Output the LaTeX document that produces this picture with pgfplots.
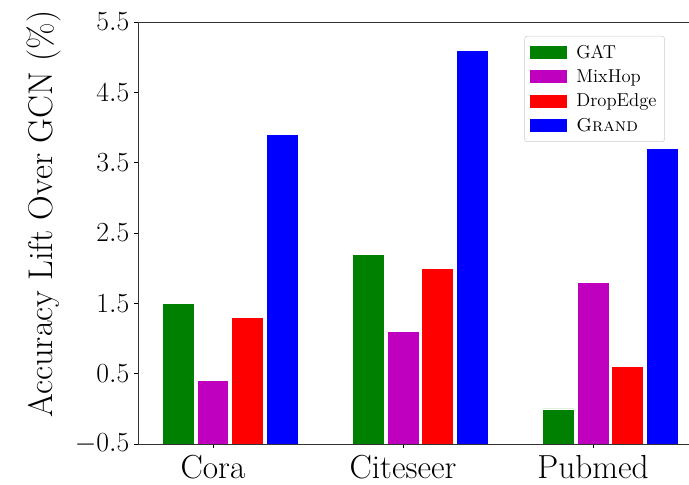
\documentclass[border=0pt]{standalone}
\usepackage{pgfplots}
\pgfplotsset{compat=1.18}
\usetikzlibrary{calc}
\definecolor{cG}{RGB}{0,128,0}
\definecolor{cM}{RGB}{191,0,191}
\definecolor{cR}{RGB}{255,0,0}
\definecolor{cB}{RGB}{0,0,255}
\begin{document}
\begin{tikzpicture}
\begin{axis}[
  scale only axis,
  width=415.5pt, height=316.5pt,
  xmin=-0.3947, xmax=2.521,
  ymin=0, ymax=6,
  y filter/.expression={y+0.5},
  ybar, bar width=0.166,
  xtick={0,1,2},
  xticklabels={Cora,Citeseer,Pubmed},
  ytick={0,1,2,3,4,5,6},
  yticklabels={$-0.5$,$0.5$,$1.5$,$2.5$,$3.5$,$4.5$,$5.5$},
  xtick pos=bottom, ytick pos=left,
  tick align=outside,
  major tick length=3pt,
  tick style={black, line width=0.6pt},
  axis line style={line width=0.6pt, black!80},
  xticklabel style={font=\fontsize{25}{30}\selectfont, yshift=-2pt},
  yticklabel style={font=\fontsize{21}{25}\selectfont},
  ylabel={Accuracy Lift Over GCN (\%)},
  every axis y label/.style={at={(axis description cs:-0.155,0.545)}, rotate=90, anchor=base, font=\fontsize{25.7}{30}\selectfont},
  legend style={at={(axis description cs:0.951,0.967)}, anchor=north east,
    draw=black!20, rounded corners=2pt, fill=white, fill opacity=0.8, text opacity=1,
    font=\fontsize{14}{16.8}\selectfont,
    nodes={font=\fontsize{14}{16.8}\selectfont},
    row sep=3pt, column sep=5pt, inner xsep=4pt, inner ysep=4.5pt,
    cells={anchor=west}},
  legend image code/.code={\fill[#1,draw=none,sharp corners,fill opacity=1] (0pt,-4.9pt) rectangle (27.75pt,4.9pt);},
]
\coordinate (sw) at (rel axis cs:0,0);
\addplot[fill=cG, draw=white, line width=0.4pt, bar shift=-0.1816] coordinates {(0,1.5) (1,2.2) (2,0.0)};
\addplot[fill=cM, draw=white, line width=0.4pt, bar shift=0] coordinates {(0,0.4) (1,1.1) (2,1.8)};
\addplot[fill=cR, draw=white, line width=0.4pt, bar shift=0.1816] coordinates {(0,1.3) (1,2.0) (2,0.6)};
\addplot[fill=cB, draw=white, line width=0.4pt, bar shift=0.3632] coordinates {(0,3.9) (1,5.1) (2,3.7)};
\legend{GAT,MixHop,DropEdge,\textsc{Grand}}
\end{axis}
\pgfresetboundingbox
\path[use as bounding box] ($(sw)+(-103.5pt,-30.75pt)$) rectangle ($(sw)+(413.25pt,333pt)$);
\end{tikzpicture}
\end{document}
